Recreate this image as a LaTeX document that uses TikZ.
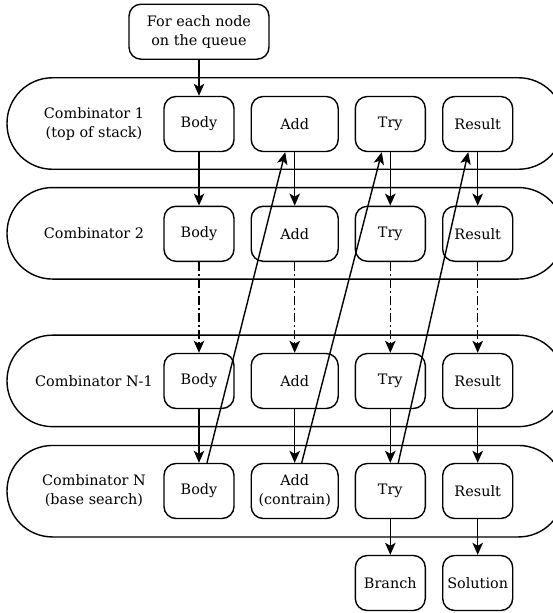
\documentclass[tikz,border=0pt]{standalone}
\usepackage{fontspec}
\setmainfont{DejaVu Serif}
\usetikzlibrary{arrows.meta,shapes.misc}
\begin{document}
\begin{tikzpicture}[x=1pt,y=-1pt,
  every node/.style={font=\fontsize{14.4}{19}\selectfont, align=center, inner sep=0pt},
  lane/.style={draw, line width=1.4pt, rounded corners=45.5pt, minimum width=557pt, minimum height=91.5pt},
  box/.style={draw, line width=1.4pt, rounded corners=12pt, minimum width=70pt, minimum height=55pt},
  wbox/.style={box, minimum width=87pt},
  arr/.style={line width=1.4pt, -{Stealth[length=12pt,width=10.5pt,inset=3pt]}},
  darr/.style={arr, dash pattern=on 9pt off 3pt on 2pt off 3pt},
  lbl/.style={}]
\useasboundingbox (0,0) rectangle (552,613);
% lanes
\node[lane] (L1) at (285.5,123.5) {};
\node[lane] (L2) at (285.5,233.3) {};
\node[lane] (L3) at (285.5,380.9) {};
\node[lane] (L4) at (285.5,491.2) {};
% labels
\node[lbl] (c1) at (94,124) {Combinator 1\\(top of stack)};
\node[lbl] (c2) at (94,233.5) {Combinator 2};
\node[lbl] (c3) at (94,381) {Combinator N-1};
\node[lbl] (c4) at (94,491) {Combinator N\\(base search)};
% top
\node[box, minimum width=140pt] (q) at (199,31.7) {For each node\\on the queue};
% rows
\foreach \r/\y in {1/124,2/233.8,3/381,4/491}{
  \node[box] (b\r) at (199,\y) {Body};
  \node[box] (t\r) at (390.3,\y) {Try};
  \node[box] (r\r) at (477.7,\y) {Result};
}
\node[wbox] (a1) at (294.7,124) {Add};
\node[wbox] (a2) at (294.7,233.8) {Add};
\node[wbox] (a3) at (294.7,381) {Add};
\node[wbox] (a4) at (294.7,491) {Add\\(contrain)};
\node[box] (br) at (390.3,583) {Branch};
\node[box] (so) at (477.7,583) {Solution};
% arrows
\draw[arr] (q) -- (b1);
\foreach \c in {b,a,t,r}{
  \draw[arr] (\c1) -- (\c2);
  \draw[darr] (\c2) -- (\c3);
  \draw[arr] (\c3) -- (\c4);
}
\draw[arr] (t4) -- (br);
\draw[arr] (r4) -- (so);
\draw[arr] ([xshift=8pt]b4.north) -- ([xshift=-9.5pt]a1.south);
\draw[arr] ([xshift=7pt]a4.north) -- ([xshift=-8.5pt]t1.south);
\draw[arr] ([xshift=8pt]t4.north) -- ([xshift=-9.5pt]r1.south);
\end{tikzpicture}
\end{document}
